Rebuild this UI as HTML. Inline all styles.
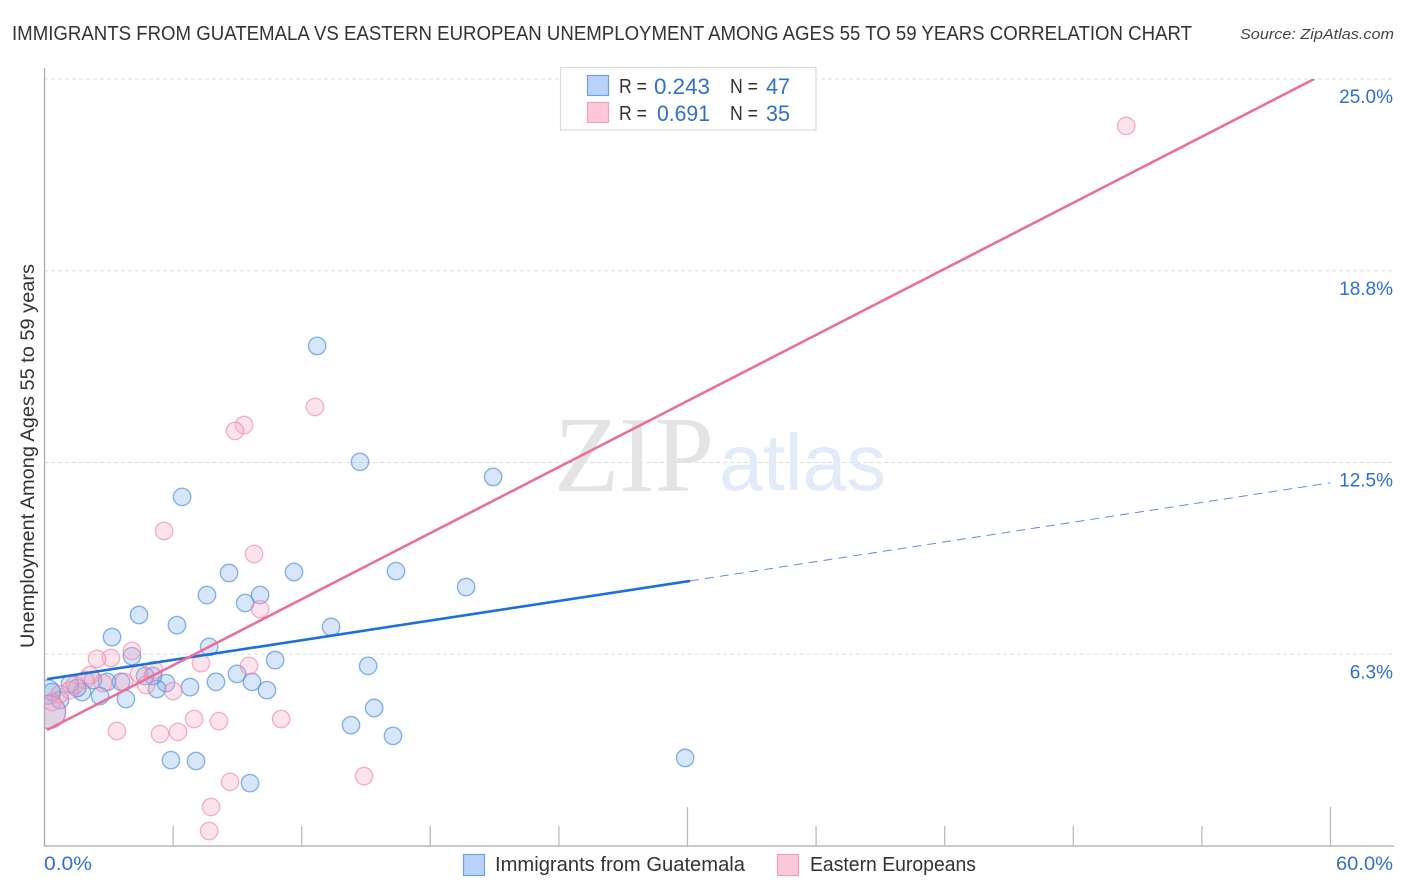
<!DOCTYPE html>
<html>
<head>
<meta charset="utf-8">
<title>Immigrants from Guatemala vs Eastern European Unemployment Correlation Chart</title>
<style>
html,body{margin:0;padding:0;background:#fff;}
svg{display:block;font-family:"Liberation Sans",sans-serif;}
</style>
</head>
<body>
<svg id="chart" xmlns="http://www.w3.org/2000/svg" width="1406" height="892" viewBox="0 0 1406 892">
  <rect x="0" y="0" width="1406" height="892" fill="#ffffff"/>
  <defs>
    <clipPath id="plot-clip"><rect x="45" y="79" width="1349" height="767"/></clipPath>
  </defs>
  <text x="12" y="40" font-size="20" fill="#333333" textLength="1180" lengthAdjust="spacingAndGlyphs">IMMIGRANTS FROM GUATEMALA VS EASTERN EUROPEAN UNEMPLOYMENT AMONG AGES 55 TO 59 YEARS CORRELATION CHART</text>
  <text x="1240" y="39" font-size="15" font-style="italic" fill="#444444" textLength="154" lengthAdjust="spacingAndGlyphs">Source: ZipAtlas.com</text>
  <g id="grid"></g>
  <g>
    <text x="554" y="491" font-family="'Liberation Serif',serif" font-size="108" fill="#e4e4e4" textLength="160" lengthAdjust="spacingAndGlyphs">ZIP</text>
    <text x="719" y="490" font-size="80" fill="#e2ebf9" textLength="167" lengthAdjust="spacingAndGlyphs">atlas</text>
  </g>
  <g id="axes">
    <line x1="44.5" y1="68" x2="44.5" y2="846" stroke="#aaaaaa" stroke-width="1.3"/>
    <line x1="44" y1="846" x2="1394" y2="846" stroke="#aaaaaa" stroke-width="1.3"/>
  </g>
  <g id="points" clip-path="url(#plot-clip)"></g>
  <g id="lines" clip-path="url(#plot-clip)"></g>
  <text transform="translate(34,648) rotate(-90)" x="0" y="0" font-size="19" fill="#333333" textLength="384" lengthAdjust="spacingAndGlyphs">Unemployment Among Ages 55 to 59 years</text>
  <g id="tick-labels"></g>
  <g>
    <rect x="560.5" y="67.5" width="255.5" height="62.5" fill="#ffffff" stroke="#dddddd" stroke-width="1.2"/>
    <rect x="587.5" y="75.5" width="21" height="20" fill="#b8d3f7" stroke="#6fa0de" stroke-width="1.2"/>
    <rect x="587.5" y="102.5" width="21" height="20" fill="#fdc8d9" stroke="#f0a0bc" stroke-width="1.2"/>
    <text x="619" y="93" font-size="20" fill="#333333" textLength="28" lengthAdjust="spacingAndGlyphs">R =</text>
    <text x="654" y="94" font-size="22" fill="#2f6fd0" textLength="56" lengthAdjust="spacingAndGlyphs">0.243</text>
    <text x="730" y="93" font-size="20" fill="#333333" textLength="28" lengthAdjust="spacingAndGlyphs">N =</text>
    <text x="766" y="94" font-size="22" fill="#2f6fd0" textLength="24" lengthAdjust="spacingAndGlyphs">47</text>
    <text x="619" y="120" font-size="20" fill="#333333" textLength="28" lengthAdjust="spacingAndGlyphs">R =</text>
    <text x="657" y="121" font-size="22" fill="#2f6fd0" textLength="53" lengthAdjust="spacingAndGlyphs">0.691</text>
    <text x="730" y="120" font-size="20" fill="#333333" textLength="28" lengthAdjust="spacingAndGlyphs">N =</text>
    <text x="766" y="121" font-size="22" fill="#2f6fd0" textLength="24" lengthAdjust="spacingAndGlyphs">35</text>
  </g>
  <g>
    <rect x="463.5" y="854.5" width="21" height="21" fill="#b8d3f7" stroke="#6fa0de" stroke-width="1.2"/>
    <text x="495" y="871" font-size="20" fill="#333333" textLength="250" lengthAdjust="spacingAndGlyphs">Immigrants from Guatemala</text>
    <rect x="777.5" y="854.5" width="21" height="21" fill="#fdc8d9" stroke="#f0a0bc" stroke-width="1.2"/>
    <text x="810" y="871" font-size="20" fill="#333333" textLength="166" lengthAdjust="spacingAndGlyphs">Eastern Europeans</text>
  </g>
</svg>
<script>
const yTickValues = [25, 18.75, 12.5, 6.25];
const yTickLabels = ['25.0%', '18.8%', '12.5%', '6.3%'];
const xTickValues = [6, 12, 18, 24, 30, 36, 42, 48, 54, 60];
const xEndLabels = ['0.0%', '60.0%'];

const blueX = [12.72,14.72,20.93,6.42,8.61,11.64,16.40,19.67,7.58,9.36,10.06,4.41,6.18,13.37,3.15,7.68,4.08,10.76,15.10,8.98,9.68,10.38,8.00,6.79,5.67,5.25,5.06,4.69,3.80,3.57,2.92,2.59,2.26,1.75,1.52,1.19,0.72,0.35,0.16,14.30,15.38,16.26,5.90,7.07,9.59,29.89,0.21];
const blueY = [16.30,12.52,12.03,11.38,8.90,8.93,8.96,8.44,8.18,7.92,8.18,7.53,7.20,7.14,6.81,6.49,6.19,6.06,5.87,5.61,5.35,5.08,5.35,5.18,5.31,5.12,5.54,5.54,4.79,5.35,5.35,4.89,5.41,5.02,5.15,5.28,4.76,5.02,5.02,3.94,4.50,3.59,2.80,2.77,2.05,2.87,4.37];
const blueSize = [1,1,1,1,1,1,1,1,1,1,1,1,1,1,1,1,1,1,1,1,1,1,1,1,1,1,1,1,1,1,1,1,1,1,1,1,1,1,1.4,1,1,1,1,1,1,1,1.9];

const pinkX = [50.47,12.62,9.31,8.89,5.58,9.78,10.06,4.08,3.10,2.45,9.54,7.30,5.11,4.41,2.12,3.71,4.74,6.00,11.04,6.98,8.14,3.38,5.39,6.23,8.66,14.91,7.77,7.68,1.89,1.19,0.72,0.35,1.42,2.73,0.21];
const pinkY = [23.47,14.31,13.72,13.53,10.27,9.52,7.72,6.36,6.13,6.10,5.87,5.96,5.74,5.61,5.57,5.35,5.25,5.05,4.14,4.14,4.07,3.75,3.65,3.72,2.09,2.28,1.27,0.49,5.41,5.08,4.95,4.69,5.25,5.31,4.37];
const pinkSize = [1,1,1,1,1,1,1,1,1,1,1,1,1,1,1,1,1,1,1,1,1,1,1,1,1,1,1,1,1,1,1,1,1,1,1.9];

const blueSolidTrendX = [0.12, 30.12];
const blueSolidTrendY = [5.44, 8.64];
const blueDashedTrendX = [30.12, 60];
const blueDashedTrendY = [8.64, 11.84];
const pinkTrendX = [0.12, 59.24];
const pinkTrendY = [3.78, 25];

const NS = 'http://www.w3.org/2000/svg';
function xScale(v) { return 44.5 + v * 21.433; }
function yScale(v) { return 846 - v * 30.68; }
function make(tag, attrs, parent) {
  const el = document.createElementNS(NS, tag);
  for (const k in attrs) el.setAttribute(k, attrs[k]);
  parent.appendChild(el);
  return el;
}

const gridG = document.getElementById('grid');
const axesG = document.getElementById('axes');
const labelsG = document.getElementById('tick-labels');
const pointsG = document.getElementById('points');
const linesG = document.getElementById('lines');

yTickValues.forEach(function (v, i) {
  const g = make('line', {x1: 44, x2: 1394, y1: yScale(v), y2: yScale(v), stroke: '#dddddd', 'stroke-width': 1, 'stroke-dasharray': '4 3'}, gridG);
  
  
  const t = make('text', {x: 1393, y: yScale(v) + 24, 'text-anchor': 'end', 'font-size': 19, fill: '#2f6fd0'}, labelsG);
  t.textContent = yTickLabels[i];
  
  
});

xTickValues.forEach(function (v) {
  const tall = v % 30 === 0;
  const tick = make('line', {x1: xScale(v), x2: xScale(v), y1: tall ? 807 : 826, y2: 846, stroke: '#bbbbbb', 'stroke-width': 1.3}, axesG);
  
  
});

const x0Label = make('text', {x: 44, y: 870, 'font-size': 19.5, fill: '#2f6fd0', textLength: 48, lengthAdjust: 'spacingAndGlyphs'}, labelsG);
x0Label.textContent = xEndLabels[0];


const x60Label = make('text', {x: 1336, y: 870, 'font-size': 19.5, fill: '#2f6fd0', textLength: 57, lengthAdjust: 'spacingAndGlyphs'}, labelsG);
x60Label.textContent = xEndLabels[1];



blueX.forEach(function (v, i) {
  const c = make('circle', {cx: xScale(v), cy: yScale(blueY[i]), r: 8.7 * blueSize[i], fill: 'rgba(120,170,235,0.29)', stroke: 'rgba(70,135,220,0.62)', 'stroke-width': 1.4}, pointsG);
  
  
});
pinkX.forEach(function (v, i) {
  const c = make('circle', {cx: xScale(v), cy: yScale(pinkY[i]), r: 8.7 * pinkSize[i], fill: 'rgba(248,165,192,0.3)', stroke: 'rgba(235,130,165,0.58)', 'stroke-width': 1.4}, pointsG);
  
  
});

const blueDash = make('line', {x1: xScale(blueDashedTrendX[0]), y1: yScale(blueDashedTrendY[0]), x2: xScale(blueDashedTrendX[1]), y2: yScale(blueDashedTrendY[1]), stroke: '#5d8fd8', 'stroke-width': 1, 'stroke-dasharray': '9 6'}, linesG);


const blueLine = make('line', {x1: xScale(blueSolidTrendX[0]), y1: yScale(blueSolidTrendY[0]), x2: xScale(blueSolidTrendX[1]), y2: yScale(blueSolidTrendY[1]), stroke: '#1f6fd8', 'stroke-width': 2.6}, linesG);


const pinkLine = make('line', {x1: xScale(pinkTrendX[0]), y1: yScale(pinkTrendY[0]), x2: xScale(pinkTrendX[1]), y2: yScale(pinkTrendY[1]), stroke: '#e96f9b', 'stroke-width': 2.6}, linesG);


</script>
</body>
</html>
